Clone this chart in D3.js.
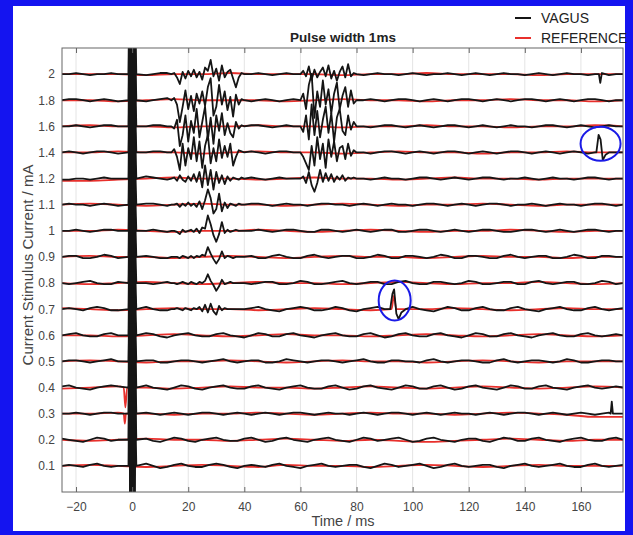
<!DOCTYPE html>
<html>
<head>
<meta charset="utf-8">
<script src="https://cdn.jsdelivr.net/npm/d3@7"></script>
<style>
  body { margin: 0; background: #fff; }
  text { font-family: "Liberation Sans", Arial, sans-serif; }
</style>
</head>
<body>
<div class="canvas"></div>
<script>
// stimulus currents (mA), bottom to top
const currents = [0.1, 0.2, 0.3, 0.4, 0.5, 0.6, 0.7, 0.8, 0.9, 1, 1.1, 1.2, 1.4, 1.6, 1.8, 2];
const xTicks = [-20, 0, 20, 40, 60, 80, 100, 120, 140, 160];

// vagus baseline, one row per current, sampled every 2.5 ms from -25 ms
const vagusBase = [
  [0,1,0,-1,1,2,0,-1,0,1, 0,1,2,0,-2,-1,1,2,0,-1, -1,1,2,1,-1,-2,0,1,0,-1, 1,2,0,-1,-2,0,1,2,0,-1, 0,1,1,-1,-2,0,2,1,-1,0, 1,2,0,-2,-1,1,2,0,-1,0, 1,1,-1,-2,0,1,2,0,-1,0, 1,2,0,-1,-1,1,2,0,-1,0, 1],
  [1,0,-1,-2,0,2,1,-1,0,1, 0,2,1,-1,-2,0,2,1,-1,-2, 0,1,2,0,-1,-1,1,2,0,-2, -1,1,2,0,-1,-2,0,1,2,0, -1,-2,0,2,1,-1,0,1,2,0, -2,-1,1,2,0,-1,-2,0,1,1, -1,-2,0,2,1,-1,-1,1,2,0, -1,-2,0,1,2,0,-1,-1,1,2, 0],
  [0,0,1,0,-1,0,1,1,0,-1, 0,0,1,0,-1,0,1,0,-1,0, 1,1,0,-1,0,1,0,-1,0,1, 0,-1,0,1,1,0,-1,0,1,0, 0,-1,0,1,0,-1,0,1,1,0, -1,0,1,0,-1,0,1,0,0,-1, 0,1,0,-1,0,1,1,0,-1,0, 1,0,-1,0,1,0,-1,0,1,0, 0],
  [1,2,0,-1,-2,0,1,2,1,-1, 0,1,2,0,-1,-2,0,2,1,-1, -2,0,1,2,0,-1,-1,1,2,0, -1,-2,0,1,2,0,-1,-1,1,2, 0,-2,-1,1,2,0,-1,-2,0,2, 1,-1,-1,1,2,0,-2,-1,1,2, 0,-1,-2,0,2,1,-1,-1,1,2, 0,-1,-2,0,1,2,0,-1,0,1, 0],
  [0,1,1,0,-1,0,1,2,0,-1, 0,0,1,1,-1,-1,0,1,1,0, -1,0,1,2,0,-1,0,1,1,-1, -1,0,2,1,0,-1,0,1,1,0, -1,0,1,2,0,-1,-1,1,1,0, 0,-1,1,2,0,-1,0,1,1,0, -1,-1,1,2,0,-1,0,1,1,0, -1,0,2,1,-1,-1,0,1,1,0, 0],
  [0,1,2,0,-1,-1,1,2,0,-1, 0,0,2,1,-1,-2,0,1,2,0, -1,-1,1,2,0,-1,-2,0,2,1, -1,-1,1,2,0,-1,-2,0,1,2, 0,-1,-1,1,2,0,-2,-1,1,2, 0,-1,-1,1,2,0,-1,-2,0,2, 1,-1,-1,1,2,0,-1,-2,0,1, 2,0,-1,-1,1,2,0,-1,0,1, 0],
  [0,1,0,-1,1,2,1,-1,-1,0, 0,1,2,0,-1,-1,1,2,1,-1, -2,0,1,2,0,-1,-1,1,2,0, -1,-2,0,1,2,1,-1,-1,0,2, 1,-1,-2,0,1,2,0,-1,-1,1, 2,0,-1,-2,0,2,1,-1,-1,1, 2,0,-1,-1,1,2,0,-1,-2,0, 1,2,0,-1,-1,1,2,0,-1,0, 1],
  [0,-1,0,1,2,0,-1,-1,1,1, 0,1,0,-1,0,1,2,0,-1,0, 1,1,-1,-1,1,2,0,-1,0,1, 1,-1,-1,0,2,1,-1,-1,0,1, 2,0,-1,0,1,1,-1,-1,1,2, 0,-1,-1,1,1,0,-1,0,2,1, -1,-1,0,1,1,-1,-1,1,2,0, -1,0,1,1,-1,-1,0,2,1,-1, 0],
  [0,1,1,-1,-1,0,2,1,-1,0, 0,1,1,0,-1,-1,1,2,0,-1, 0,1,1,-1,-2,0,2,1,-1,-1, 1,2,0,-1,-1,1,2,0,-1,0, 1,1,-1,-1,0,2,1,-1,-1,1, 1,0,-1,0,2,1,-1,-1,1,1, 0,-1,-1,1,2,0,-1,0,1,1, -1,-1,0,2,1,-1,-1,1,1,0, 0],
  [0,0,1,0,-1,0,1,1,0,-1, 0,-1,0,1,0,-1,-2,0,1,1, 0,-1,0,1,1,0,-1,0,1,0, -1,0,1,1,0,-1,-1,1,1,0, -1,0,1,0,-1,0,1,1,-1,-1, 0,1,1,0,-1,0,1,0,-1,0, 1,1,0,-1,-1,0,1,1,0,-1, 0,1,0,-1,0,1,1,0,-1,0, 0],
  [0,1,0,0,-1,0,1,0,-1,0, 0,0,1,1,0,-1,0,1,2,1, 0,-1,0,1,0,-1,0,1,1,0, -1,0,1,0,0,-1,0,1,1,0, 0,-1,0,1,0,-1,0,1,0,0, -1,0,1,1,0,-1,0,1,0,-1, 0,1,1,0,-1,0,0,1,0,-1, 0,1,0,0,-1,0,1,1,0,-1, 0],
  [-1,-1,0,0,-1,0,1,0,0,-1, 0,1,2,1,0,-1,0,1,1,0, -1,0,1,0,-1,0,1,1,0,-1, 0,1,0,0,-1,0,1,1,0,-1, 0,0,1,0,-1,0,1,0,0,-1, 0,1,1,0,-1,0,1,0,-1,0, 1,1,0,-1,0,0,1,0,-1,0, 1,0,0,-1,0,1,1,0,-1,0, 0],
  [0,1,0,-1,0,1,1,0,-1,0, 0,-1,0,1,1,0,-1,0,1,0, -1,0,1,1,0,-1,0,1,0,-1, 0,1,1,0,-1,-1,0,1,1,0, -1,0,1,0,-1,0,1,1,0,-1, 0,1,0,-1,0,1,1,0,-1,0, 1,0,-1,0,1,1,0,-1,0,1, 0,-1,0,1,0,-1,0,1,0,0, 0],
  [0,0,1,0,-1,0,1,1,0,-1, 0,-1,0,1,1,0,-1,0,1,0, 0,-1,0,1,0,-1,0,1,1,0, -1,0,1,0,0,-1,0,1,1,0, -1,0,1,0,-1,0,1,1,0,-1, 0,1,0,-1,0,1,1,0,-1,0, 1,0,-1,0,1,0,0,-1,0,1, 1,0,-1,0,1,0,-1,0,1,0, 0],
  [0,1,1,0,-1,0,1,0,-1,0, 0,-2,-1,0,1,2,1,0,-1,0, 1,0,-1,0,1,1,0,-1,0,1, 0,-1,0,1,1,0,-1,-1,0,1, 1,0,-1,0,1,0,-1,0,1,1, 0,-1,0,1,0,-1,0,1,1,0, -1,0,1,0,-1,0,1,1,0,-1, 0,1,0,-1,0,1,1,0,-1,0, 0],
  [0,0,1,0,-1,0,0,1,0,-1, 0,-3,-1,0,1,1,0,-1,0,1, 0,-1,0,1,0,0,-1,0,1,0, -1,0,1,0,0,-1,0,1,0,-1, 0,1,0,-1,0,1,0,0,-1,0, 1,0,-1,0,0,1,0,-1,0,1, 0,-1,0,1,0,0,-1,0,1,0, -1,0,1,0,0,-1,0,1,-1,0, 0]
];

// reference channel, one row per current, sampled every 10 ms from -25 ms
const referenceBase = [
  [0,1,0,-1,0,1,0,-1,1,0,0,-1,0,1,0,-1,0,1,0,0,0],
  [0,-1,0,1,0,0,-1,0,1,0,-1,0,-1,-2,-1,0,1,0,-1,0,0],
  [0,0,1,0,-1,0,0,1,0,-1,0,1,0,0,-1,0,1,0,-1,-3,-3],
  [-1,0,1,0,-1,0,1,0,0,-1,0,1,0,-1,0,1,0,-1,0,1,0],
  [0,1,0,-1,0,0,1,0,-1,0,1,0,0,-1,0,1,0,-1,0,0,0],
  [0,0,-1,0,1,0,-1,0,1,0,0,-1,0,1,0,-1,0,1,0,-1,0],
  [1,0,-1,0,1,0,0,-1,0,1,0,-1,0,0,1,0,-1,0,1,0,0],
  [0,-1,0,1,0,-1,0,1,0,0,-1,0,1,0,-1,0,0,1,0,-1,0],
  [0,1,0,0,-1,0,1,0,-1,0,1,0,0,-1,0,1,0,0,-1,0,0],
  [0,0,1,0,-1,0,0,1,0,-1,0,1,0,-1,0,0,1,0,-1,0,0],
  [0,1,0,-1,0,1,0,0,-1,0,1,0,-1,0,0,1,0,-1,0,0,0],
  [-2,-2,-1,0,1,0,0,-1,0,1,0,0,-1,0,1,0,0,-1,0,0,0],
  [0,0,1,0,0,-1,0,1,0,0,-1,0,1,0,0,-1,0,0,1,0,0],
  [0,1,0,0,-1,0,0,1,0,0,-1,0,0,1,0,0,-1,0,0,1,0],
  [0,0,-1,0,1,0,0,0,-1,0,1,0,0,-1,0,0,1,0,0,-1,0],
  [0,0,0,-1,0,0,1,0,0,0,-1,0,0,1,0,0,0,-1,0,0,0]
];

// evoked bursts, 1 ms samples; window A 14-40 ms, window B 60-80 ms
const burstCurrentsA = [2, 1.8, 1.6, 1.4, 1.2, 1.1, 1, 0.9, 0.8, 0.7];
const burstA = [
  [0,1,-3,-9,2,-4,3,-2,4,-3,2,-5,6,3,13,-2,5,-6,8,-3,2,4,-4,-12,-3,1,0],
  [0,2,-4,-20,-6,9,-8,4,-10,6,-3,8,-5,12,20,-14,-6,14,-4,8,-9,3,-15,5,-4,1,0],
  [0,-2,6,-18,-8,10,-14,5,-6,16,-10,4,18,-12,8,-16,10,-4,12,-8,3,-6,-10,4,-2,1,0],
  [0,3,-4,-16,8,-12,4,-6,14,-8,10,-14,6,16,-10,4,-8,12,-5,6,-4,8,-12,-4,2,1,0],
  [0,1,-2,3,-1,-3,2,-2,4,-3,6,-8,12,-6,8,-10,6,-4,3,-5,2,-2,1,0,-1,1,0],
  [0,0,1,-2,1,-1,2,-1,1,-2,3,-4,4,14,6,-8,-4,10,-6,2,-3,1,0,-1,1,0,0],
  [0,0,-1,-3,1,-1,0,1,-1,2,-2,3,2,14,6,-4,-10,-3,8,-2,1,-1,0,1,0,0,0],
  [0,0,0,-1,1,0,-1,1,-1,1,0,2,1,9,3,-2,-6,-2,5,-1,1,0,-1,0,0,0,0],
  [0,0,-1,0,1,0,-1,1,0,-1,1,0,2,8,2,-2,-7,-3,3,-1,0,1,0,0,0,0,0],
  [0,0,1,0,-1,1,0,-1,1,0,2,-2,4,-3,5,-2,-5,3,-1,1,0,0,0,0,0,0,0]
];
const burstCurrentsB = [2, 1.8, 1.6, 1.4, 1.2];
const burstB = [
  [0,3,-2,7,-5,4,-3,2,6,-2,8,-4,3,-6,2,7,-3,9,-2,1,0],
  [0,6,-8,14,24,-16,8,-6,18,-4,10,-12,6,16,-8,4,12,-6,9,-3,0],
  [0,-5,10,-12,20,-8,14,-10,6,18,-6,12,-14,8,16,-4,-8,10,-3,4,0],
  [0,-4,-10,-16,6,-12,14,-6,8,-14,12,-4,10,-8,4,6,-6,8,-3,2,0],
  [0,2,-4,6,-6,-12,-4,8,-3,5,-2,4,-3,2,-1,3,-2,1,0,1,0]
];

// stimulus artefact around t = 0
const artifactT = [-1.3, -1.0, -0.6, -0.3, 0.1, 0.4, 0.8, 1.1, 1.5];
const artifactShape = [0, 1, -1, 1, -1, 1, -1, 0.6, 0];
const artifactGain = [90, 90, 80, 80, 60, 60, 60, 60, 60, 60, 60, 70, 70, 80, 80, 90];

// isolated spikes (vagus)
const spikeCurrents = [0.7, 1.4, 2, 0.3];
const spikeT = [
  [92, 92.8, 93.4, 94.2, 95, 96, 97.5],
  [165.5, 166.3, 167, 167.8, 168.8, 170],
  [166.4, 166.9, 167.4],
  [170.6, 171, 171.4]
];
const spikeV = [
  [0, 14, 18, -4, -9, -3, 0],
  [0, 16, 12, -7, -2, 0],
  [0, -8, 0],
  [0, 11, 0]
];
// reference artefacts
const refSpikeCurrents = [0.4, 0.3, 0.7];
const refSpikeT = [[-3, -2.4, -1.8], [-3, -2.6, -2.2], [92.5, 93.3, 94.2]];
const refSpikeV = [[0, -18, 0], [0, -9, 0], [0, 12, 0]];

// circled events
const circled = [{ current: 0.7, t: 93.6 }, { current: 1.4, t: 167 }];

const W = 633, H = 535;
const plotL = 62, plotR = 623, plotT = 48, plotB = 492;

const svg = d3.select('.canvas')
  .append('svg')
  .attr('width', W)
  .attr('height', H);

// blue frame
svg.append('rect').attr('width', W).attr('height', H).attr('fill', '#1414f0');
svg.append('rect').attr('x', 13).attr('y', 6).attr('width', 612).attr('height', 525).attr('fill', '#fff');

const x = d3.scaleLinear().domain([-25, 175]).range([plotL, plotR]);
const y = d3.scalePoint().domain(currents).range([plotB, plotT]).padding(1);
const amp = d3.scaleLinear().domain([0, 10]).range([0, y.step() * 0.42]);

// grid
svg.append('g')
  .selectAll('line')
  .data(xTicks)
  .join('line')
  .attr('x1', d => x(d)).attr('x2', d => x(d))
  .attr('y1', plotT).attr('y2', plotB)
  .attr('stroke', '#e4e4e4')
  .attr('stroke-width', 1);

svg.append('defs').append('clipPath').attr('id', 'clip')
  .append('rect')
  .attr('x', plotL).attr('y', plotT)
  .attr('width', plotR - plotL).attr('height', plotB - plotT);

const inWin = (t, a, b) => t >= a && t <= b;

function vagusSeries(c, i) {
  let pts = [];
  vagusBase[i].forEach((v, k) => {
    const t = -25 + 2.5 * k;
    if (inWin(t, -2.5, 2.5)) return;
    pts.push({ t, v });
  });
  const a = burstCurrentsA.indexOf(c);
  if (a >= 0) {
    pts = pts.filter(p => !inWin(p.t, 14, 40));
    burstA[a].forEach((v, k) => pts.push({ t: 14 + k, v }));
  }
  const b = burstCurrentsB.indexOf(c);
  if (b >= 0) {
    pts = pts.filter(p => !inWin(p.t, 60, 80));
    burstB[b].forEach((v, k) => pts.push({ t: 60 + k, v }));
  }
  artifactT.forEach((t, k) => pts.push({ t, v: artifactShape[k] * artifactGain[i] }));
  const s = spikeCurrents.indexOf(c);
  if (s >= 0) {
    const ts = spikeT[s];
    pts = pts.filter(p => !inWin(p.t, ts[0], ts[ts.length - 1]));
    ts.forEach((t, k) => pts.push({ t, v: spikeV[s][k] }));
  }
  return pts.sort((p, q) => p.t - q.t);
}

function referenceSeries(c, i) {
  let pts = referenceBase[i].map((v, k) => ({ t: -25 + 10 * k, v }));
  const r = refSpikeCurrents.indexOf(c);
  if (r >= 0) refSpikeT[r].forEach((t, k) => pts.push({ t, v: refSpikeV[r][k] }));
  return pts.sort((p, q) => p.t - q.t);
}

const traces = svg.append('g').attr('clip-path', 'url(#clip)');

currents.forEach((c, i) => {
  const line = d3.line().x(d => x(d.t)).y(d => y(c) - amp(d.v)).curve(d3.curveMonotoneX);
  traces.append('path')
    .datum(referenceSeries(c, i))
    .attr('d', line)
    .attr('fill', 'none')
    .attr('stroke', '#e8302c')
    .attr('stroke-width', 1.8);
});

currents.forEach((c, i) => {
  const line = d3.line().x(d => x(d.t)).y(d => y(c) - amp(d.v));
  traces.append('path')
    .datum(vagusSeries(c, i))
    .attr('d', line)
    .attr('fill', 'none')
    .attr('stroke', '#151515')
    .attr('stroke-width', 1.8)
    .attr('stroke-linejoin', 'round');
});

// blue circles
svg.append('g')
  .selectAll('ellipse')
  .data(circled)
  .join('ellipse')
  .attr('cx', d => x(d.t))
  .attr('cy', d => y(d.current) - amp(8))
  .attr('rx', d => d.current < 1 ? 16 : 20)
  .attr('ry', d => d.current < 1 ? 20 : 17)
  .attr('fill', 'none')
  .attr('stroke', '#1a1ae6')
  .attr('stroke-width', 2);

// box
svg.append('rect')
  .attr('x', plotL).attr('y', plotT)
  .attr('width', plotR - plotL).attr('height', plotB - plotT)
  .attr('fill', 'none').attr('stroke', '#666').attr('stroke-width', 1);

// axes
const xAxisGroup = svg.append('g').attr('transform', `translate(0,${plotB})`)
  .call(d3.axisBottom(x).tickValues(xTicks).tickSizeInner(-5).tickSizeOuter(0).tickPadding(10));
const xTopGroup = svg.append('g').attr('transform', `translate(0,${plotT})`)
  .call(d3.axisTop(x).tickValues(xTicks).tickSizeInner(-5).tickSizeOuter(0).tickFormat(''));
const yAxisGroup = svg.append('g').attr('transform', `translate(${plotL},0)`)
  .call(d3.axisLeft(y).tickSize(0).tickPadding(7).tickFormat(d => d3.format('~g')(d)));

[xAxisGroup, xTopGroup, yAxisGroup].forEach(g => {
  g.select('.domain').remove();
  g.selectAll('line').attr('stroke', '#666');
  g.selectAll('text').attr('fill', '#444').attr('font-size', 12)
    .attr('font-family', '"Liberation Sans", Arial, sans-serif');
});

// titles
svg.append('text')
  .attr('x', 343).attr('y', 42)
  .attr('text-anchor', 'middle')
  .attr('font-size', 13.5).attr('font-weight', 'bold').attr('fill', '#222')
  .text('Pulse width 1ms');

svg.append('text')
  .attr('x', 343).attr('y', 526)
  .attr('text-anchor', 'middle')
  .attr('font-size', 14.5).attr('fill', '#444')
  .text('Time / ms');

svg.append('text')
  .attr('transform', 'translate(33,265) rotate(-90)')
  .attr('text-anchor', 'middle')
  .attr('font-size', 15).attr('fill', '#444')
  .text('Current Stimulus Current / mA');

// legend
const legend = svg.append('g');
[['VAGUS', '#151515', 18], ['REFERENCE', '#e8302c', 38]].forEach(([name, col, ly]) => {
  legend.append('line')
    .attr('x1', 515).attr('x2', 531).attr('y1', ly).attr('y2', ly)
    .attr('stroke', col).attr('stroke-width', 2);
  legend.append('text')
    .attr('x', 541).attr('y', ly + 5)
    .attr('font-size', 14).attr('fill', '#222')
    .text(name);
});
</script>
</body>
</html>
